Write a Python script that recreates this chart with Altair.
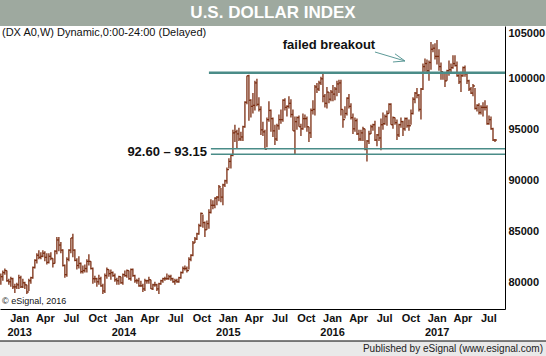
import altair as alt
import pandas as pd

# ---- weekly bars (high, low, close), week starting 2012-10-29 ----
high_2012 = [80.9, 81.2, 81.4, 81.2, 80.4, 80.6, 80.5, 79.9, 80.0, 80.8]
low_2012 = [79.8, 80.2, 80.8, 80.1, 79.8, 79.6, 79.4, 79.0, 79.4, 79.4]
close_2012 = [80.6, 81.0, 81.2, 80.2, 80.1, 80.4, 79.6, 79.6, 79.8, 80.5]

high_2013 = [80.7, 80.4, 80.1, 79.8, 80.4, 80.6, 81.6, 82.3, 82.9, 83.2, 83.0, 83.2,
             83.1, 82.9, 82.9, 83.0, 82.4, 83.2, 84.5, 84.5, 84.0, 83.3, 81.8, 82.5,
             83.3, 84.4, 84.8, 83.3, 82.4, 82.6, 82.0, 81.7, 81.8, 82.3, 82.8, 82.1,
             81.5, 80.7, 80.5, 80.8, 80.6, 79.9, 80.9, 81.5, 81.3, 81.3, 81.1, 80.9,
             80.5, 80.7, 80.6, 80.9]
low_2013 = [79.5, 79.5, 79.4, 78.9, 79.2, 79.9, 80.4, 81.4, 81.9, 82.3, 82.3, 82.5,
            82.1, 81.8, 81.9, 82.2, 81.5, 81.9, 82.8, 83.1, 82.9, 81.6, 80.5, 80.6,
            82.1, 82.9, 82.5, 82.1, 81.3, 81.4, 80.9, 80.9, 81.0, 81.0, 81.7, 81.3,
            79.9, 80.0, 79.6, 79.8, 79.6, 78.9, 79.0, 80.4, 80.6, 80.3, 80.6, 80.1,
            79.8, 79.8, 79.9, 79.8]
close_2013 = [79.6, 80.0, 79.8, 79.1, 80.2, 80.5, 81.5, 82.2, 82.7, 82.5, 82.6, 82.9,
              82.5, 82.0, 82.6, 82.4, 81.9, 83.1, 84.2, 83.7, 83.2, 81.7, 80.8, 82.3,
              83.2, 84.4, 83.2, 82.2, 81.7, 81.9, 81.1, 81.2, 81.4, 82.1, 82.1, 81.4,
              80.4, 80.4, 80.1, 80.4, 79.7, 79.2, 80.7, 81.3, 80.9, 81.0, 80.7, 80.3,
              80.2, 80.6, 80.0, 80.8]

high_2014 = [81.2, 81.3, 81.2, 81.4, 81.4, 80.8, 80.4, 80.5, 80.2, 79.9, 80.4, 80.3,
             80.6, 80.3, 79.9, 80.1, 79.9, 80.0, 80.3, 80.5, 80.6, 80.9, 80.8, 80.8,
             80.5, 80.4, 80.4, 80.6, 81.1, 81.6, 81.7, 81.6, 82.5, 82.8, 84.1, 84.5,
             84.9, 85.8, 86.9, 86.7, 86.0, 86.1, 87.2, 88.2, 88.1, 88.4, 88.5, 89.6,
             89.3, 89.7, 90.1, 91.3]
low_2014 = [80.6, 80.5, 80.3, 80.2, 80.6, 80.0, 79.9, 79.6, 79.6, 79.1, 79.2, 79.9,
            79.9, 79.4, 79.3, 79.6, 79.2, 78.9, 79.8, 80.0, 80.2, 80.3, 80.3, 80.2,
            80.0, 79.8, 80.0, 80.0, 80.4, 80.9, 81.2, 81.0, 81.3, 82.1, 82.6, 83.9,
            84.2, 84.7, 85.5, 85.4, 84.5, 85.2, 85.3, 86.8, 87.2, 87.3, 87.6, 88.0,
            87.9, 87.6, 89.4, 89.7]
close_2014 = [80.7, 81.2, 80.4, 81.3, 80.7, 80.2, 80.2, 79.7, 79.7, 79.4, 80.2, 80.2,
              80.3, 79.4, 79.8, 79.8, 79.4, 79.9, 80.2, 80.4, 80.4, 80.4, 80.6, 80.4,
              80.1, 80.2, 80.1, 80.5, 81.0, 81.4, 81.4, 81.2, 82.3, 82.7, 83.9, 84.3,
              84.8, 85.6, 86.8, 85.9, 85.2, 85.8, 86.9, 87.6, 87.6, 88.3, 88.4, 89.4,
              88.4, 89.6, 90.0, 91.1]

high_2015 = [92.2, 92.6, 95.0, 95.5, 95.0, 95.2, 94.8, 95.4, 97.8, 100.3, 100.4, 98.0,
             98.6, 99.8, 100.0, 98.2, 97.3, 95.8, 95.0, 96.2, 97.8, 97.0, 96.2, 95.5,
             95.6, 96.5, 97.0, 98.0, 98.1, 97.4, 98.3, 98.0, 97.0, 96.3, 96.3, 96.4,
             95.6, 96.6, 96.5, 96.3, 95.3, 97.1, 97.9, 99.4, 99.6, 99.8, 100.2, 100.5,
             98.5, 99.2, 98.7, 98.9]
low_2015 = [91.2, 91.2, 92.4, 93.8, 93.2, 93.9, 93.9, 93.9, 95.2, 97.5, 95.9, 96.2,
            96.6, 96.9, 97.3, 96.8, 94.5, 94.4, 93.1, 93.3, 95.8, 94.8, 94.3, 93.5,
            93.9, 95.0, 95.6, 95.8, 96.9, 96.3, 97.1, 96.2, 94.9, 92.6, 95.0, 95.3,
            94.4, 95.0, 95.2, 94.8, 93.8, 94.2, 96.5, 96.4, 98.6, 98.8, 99.4, 97.7,
            97.2, 97.1, 97.6, 97.8]
close_2015 = [91.9, 92.5, 94.7, 94.8, 94.6, 94.1, 94.3, 95.3, 97.7, 100.3, 97.9, 97.3,
              97.4, 99.6, 97.5, 97.0, 95.0, 94.8, 93.1, 96.0, 96.9, 96.1, 94.9, 94.1,
              95.4, 96.0, 96.0, 97.9, 97.2, 97.3, 97.6, 96.5, 94.9, 95.8, 96.2, 95.3,
              95.1, 96.1, 96.1, 95.3, 94.7, 96.9, 97.0, 99.2, 99.0, 99.6, 100.0, 98.3,
              97.6, 98.7, 98.0, 98.7]

high_2016 = [99.4, 99.2, 99.8, 99.9, 99.9, 97.0, 97.3, 98.2, 98.5, 97.6, 96.6, 96.2,
             96.1, 95.0, 95.0, 95.3, 95.1, 94.0, 94.9, 95.5, 95.6, 95.9, 94.6, 95.3,
             96.1, 96.7, 96.5, 96.9, 97.6, 97.6, 96.3, 96.2, 96.0, 95.6, 96.2, 95.9,
             96.2, 96.2, 96.0, 97.0, 98.2, 98.7, 99.1, 98.5, 99.1, 101.5, 102.0, 101.9,
             101.8, 103.6, 103.4, 103.5]
low_2016 = [97.8, 97.9, 98.3, 98.6, 96.4, 95.2, 96.1, 96.4, 97.1, 96.0, 94.6, 94.8,
            94.5, 93.9, 93.9, 93.9, 93.0, 91.9, 93.6, 94.6, 94.9, 93.9, 93.4, 93.9,
            93.0, 95.0, 95.5, 95.4, 96.6, 95.5, 95.1, 95.5, 94.0, 94.3, 95.2, 94.4,
            94.9, 95.2, 94.9, 95.5, 96.5, 97.6, 98.1, 96.8, 96.0, 98.9, 100.7, 100.5,
            99.8, 100.9, 102.6, 101.9]
close_2016 = [98.5, 99.0, 99.5, 99.6, 97.0, 96.0, 96.6, 98.1, 97.3, 96.2, 95.1, 95.9,
              94.6, 94.1, 94.7, 95.1, 93.1, 93.9, 94.6, 95.3, 95.5, 94.0, 94.5, 94.2,
              95.5, 95.6, 96.3, 96.6, 97.5, 95.5, 96.2, 95.7, 94.5, 95.5, 95.8, 95.1,
              96.1, 95.4, 95.4, 96.6, 98.0, 98.6, 98.4, 97.0, 99.0, 101.2, 101.5, 100.8,
              101.6, 102.9, 103.0, 102.2]

high_2017 = [103.8, 102.9, 101.6, 100.7, 100.6, 100.9, 101.8, 101.5, 102.3, 102.3,
             101.7, 100.5, 100.7, 101.2, 101.3, 100.5, 99.9, 99.2, 99.5, 99.1, 97.5,
             97.6, 97.4, 97.7, 97.9, 97.4, 96.4, 96.3, 95.2, 94.1]
low_2017 = [101.4, 100.8, 99.9, 99.9, 99.2, 99.8, 100.3, 100.6, 101.0, 101.2,
            100.2, 99.5, 98.7, 100.2, 100.2, 99.5, 98.8, 98.5, 98.3, 97.0, 96.8,
            96.5, 96.5, 96.3, 96.9, 95.5, 95.5, 95.0, 93.9, 93.8]
close_2017 = [102.2, 101.2, 100.7, 100.6, 99.8, 100.8, 100.9, 101.1, 101.5, 101.3,
              100.3, 99.7, 100.3, 101.1, 100.5, 99.8, 99.0, 98.6, 99.3, 97.1, 97.4,
              96.7, 97.2, 97.2, 97.2, 95.6, 96.0, 95.1, 94.0, 94.0]

highs = high_2012 + high_2013 + high_2014 + high_2015 + high_2016 + high_2017
lows = low_2012 + low_2013 + low_2014 + low_2015 + low_2016 + low_2017
closes = close_2012 + close_2013 + close_2014 + close_2015 + close_2016 + close_2017
first_week = "2012-10-29"

# horizontal levels
level_values = [100.6, 93.15, 92.60]
level_start = ["2014-10-27", "2014-11-03", "2014-11-03"]
level_end = ["2017-08-28", "2017-08-28", "2017-08-28"]
level_width = [2.5, 1.5, 1.5]

# arrow of the "failed breakout" note (date, value pairs)
arrow_x1 = ["2016-05-30", "2016-08-08", "2016-08-01"]
arrow_y1 = [102.63, 102.45, 101.65]
arrow_x2 = ["2016-09-12", "2016-09-12", "2016-09-12"]
arrow_y2 = [101.75, 101.75, 101.75]

y_ticks = [80, 85, 90, 95, 100, 105]
month_ticks = ["2013-01-01", "2013-04-01", "2013-07-01", "2013-10-01",
               "2014-01-01", "2014-04-01", "2014-07-01", "2014-10-01",
               "2015-01-01", "2015-04-01", "2015-07-01", "2015-10-01",
               "2016-01-01", "2016-04-01", "2016-07-01", "2016-10-01",
               "2017-01-01", "2017-04-01", "2017-07-01"]
year_ticks = ["2013-01-01", "2014-01-01", "2015-01-01", "2016-01-01", "2017-01-01"]

BROWN = "#7a2c10"
TEAL = "#4a8c88"
FONT = "Liberation Sans"

dates = pd.date_range(first_week, periods=len(closes), freq="7D").strftime("%Y-%m-%d")
df = pd.DataFrame({"date": dates, "high": highs, "low": lows, "close": closes})


def ms(d):
    return int(pd.Timestamp(d, tz="UTC").value // 10**6)


xscale = alt.Scale(type="utc", domain=[alt.DateTime(year=2012, month=10, date=26, utc=True),
                                        alt.DateTime(year=2017, month=8, date=28, utc=True)])
yscale = alt.Scale(domain=[77.43, 105.18], nice=False, zero=False)

label_style = dict(labelFont=FONT, labelFontSize=11, labelFontWeight="bold",
                   labelColor="#111", labelOverlap=False, labelSeparation=0,
                   labelFlush=False, labelBound=False, title=None, grid=False,
                   ticks=False, orient="bottom", labelBaseline="top")
month_axis = alt.Axis(values=[ms(d) for d in month_ticks],
                      labelExpr="utcFormat(datum.value, '%b')",
                      domainColor="black", labelPadding=3, **label_style)
year_axis = alt.Axis(values=[ms(d) for d in year_ticks],
                     labelExpr="utcFormat(datum.value, '%Y')",
                     domain=False, labelPadding=17, **label_style)
yaxis = alt.Axis(
    orient="right", values=y_ticks, title=None, grid=False, ticks=False,
    domainColor="black", labelExpr="format(datum.value * 1000, 'd')",
    labelFont=FONT, labelFontSize=11, labelFontWeight="bold", labelColor="#111",
    labelPadding=3, labelFlush=4, labelOverlap=False)

one = pd.DataFrame({"a": [0]})

title_bar = alt.Chart(one).mark_rect(color="#9ea99f").encode(
    x=alt.value(0), x2=alt.value(546), y=alt.value(-26), y2=alt.value(0))
title_text = alt.Chart(one).mark_text(
    text="U.S. DOLLAR INDEX", font=FONT, fontSize=17, fontWeight="bold",
    color="white", align="center", baseline="middle").encode(
    x=alt.value(273), y=alt.value(-13))
footer_bar = alt.Chart(one).mark_rect(color="#e9e9e9").encode(
    x=alt.value(0), x2=alt.value(546), y=alt.value(315), y2=alt.value(330))
footer_line = alt.Chart(one).mark_rule(color="black", strokeWidth=1).encode(
    x=alt.value(0), x2=alt.value(546), y=alt.value(315))
footer_text = alt.Chart(one).mark_text(
    text="Published by eSignal (www.esignal.com)", font=FONT, fontSize=10,
    color="#222", align="right", baseline="middle").encode(
    x=alt.value(543), y=alt.value(323))
header_text = alt.Chart(one).mark_text(
    text="(DX A0,W) Dynamic,0:00-24:00 (Delayed)", font=FONT, fontSize=11,
    color="#111", align="left", baseline="middle").encode(
    x=alt.value(2), y=alt.value(7))
copy_text = alt.Chart(one).mark_text(
    text="© eSignal, 2016", font=FONT, fontSize=9, color="#111",
    align="left", baseline="middle").encode(x=alt.value(2), y=alt.value(275))

hl = alt.Chart(df).mark_rule(color=BROWN, strokeWidth=1.3).encode(
    x=alt.X("date:T", scale=xscale, axis=month_axis),
    y=alt.Y("low:Q", scale=yscale, axis=yaxis),
    y2="high:Q")
cl = alt.Chart(df).mark_rule(color=BROWN, strokeWidth=1.3, x2Offset=2).encode(
    x=alt.X("date:T", axis=year_axis), x2="date:T", y="close:Q")

levels = pd.DataFrame({"value": level_values, "start": level_start,
                       "end": level_end, "w": level_width})
level_lines = alt.Chart(levels).mark_rule(color=TEAL).encode(
    x=alt.X("start:T", axis=None), x2="end:T", y="value:Q",
    strokeWidth=alt.StrokeWidth("w:Q", scale=None, legend=None))

arrow_df = pd.DataFrame({"x1": arrow_x1, "y1": arrow_y1, "x2": arrow_x2, "y2": arrow_y2})
arrow = alt.Chart(arrow_df).mark_rule(color="#5d9a98", strokeWidth=1).encode(
    x=alt.X("x1:T", axis=None), x2="x2:T", y="y1:Q", y2="y2:Q")

note_df = pd.DataFrame({"d": ["2015-12-21"], "v": [103.3], "t": ["failed breakout"]})
note = alt.Chart(note_df).mark_text(
    font=FONT, fontSize=13, fontWeight="bold", color="#111",
    align="center", baseline="middle").encode(
    x=alt.X("d:T", axis=None), y="v:Q", text="t:N")

range_df = pd.DataFrame({"d": ["2014-10-20"], "v": [92.85], "t": ["92.60 – 93.15"]})
range_note = alt.Chart(range_df).mark_text(
    font=FONT, fontSize=13, fontWeight="bold", color="#111",
    align="right", baseline="middle").encode(
    x=alt.X("d:T", axis=None), y="v:Q", text="t:N")

chart = alt.layer(
    hl, title_bar, title_text, footer_bar, footer_line, footer_text,
    header_text, copy_text, cl, level_lines, arrow, note, range_note
).resolve_axis(x="independent").properties(
    width=505, height=283,
    autosize=alt.AutoSizeParams(type="none"),
    padding={"left": 0, "top": 26, "right": 41, "bottom": 47},
    background="white"
).configure_view(stroke=None).configure_axis(labelOverlap=False, labelSeparation=0)

chart.save("out.html", embed_options={"renderer": "svg", "actions": False})
